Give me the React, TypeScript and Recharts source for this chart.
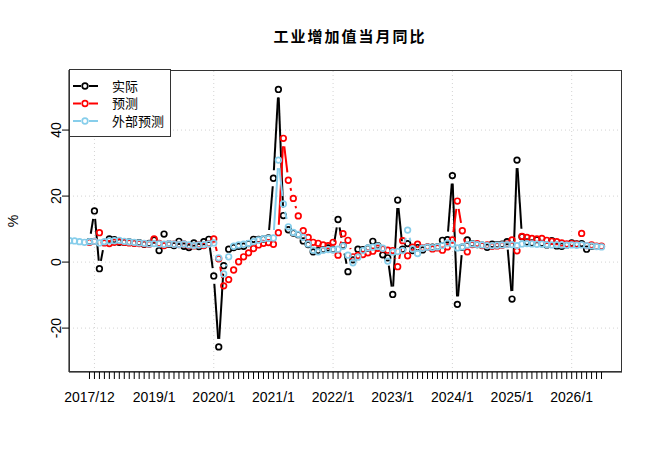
import React from "react";
import { ComposedChart, Line, XAxis, YAxis, ReferenceLine } from "recharts";

// months run from 2017/8 to 2026/7
const startYear = 2017;
const startMonth = 8;
const monthCount = 108;

// 实际
const actual: (number | null)[] = [
  null, null, null, null, 6.2,
  15.5, -2.0, 6.0, 7.0, 6.8, 6.0, 6.0, 6.1, 5.8, 5.9, 5.4, 5.7,
  6.7, 3.5, 8.5, 5.4, 5.0, 6.3, 4.8, 4.4, 5.8, 4.7, 6.2, 6.9,
  -4.2, -25.7, -1.1, 3.9, 4.4, 4.8, 4.8, 5.6, 6.9, 6.9, 7.0, 7.3,
  25.4, 52.3, 14.1, 9.8, 8.8, 8.3, 6.4, 5.3, 3.1, 3.5, 3.8, 4.3,
  3.8, 12.9, 5.0, -2.9, 0.7, 3.9, 3.8, 4.2, 6.3, 5.0, 2.2, 1.3,
  -9.8, 18.8, 3.9, 5.6, 3.5, 4.4, 3.7, 4.5, 4.5, 4.6, 6.6, 6.8,
  26.2, -12.8, 4.5, 6.7, 5.6, 5.3, 5.1, 4.5, 5.4, 5.3, 5.4, 6.2,
  -11.2, 30.9, 7.7, 6.1, 5.8, 6.8, 5.7, 5.2, 6.5, 4.9, 4.8, 5.2,
  5.8, 5.5, 5.6, 3.9, 4.8,
];

// 预测
const forecast: (number | null)[] = [
  null, null, null, null, 6.0,
  6.3, 8.9, 5.8, 5.6, 6.0, 6.2, 6.0, 5.8, 5.7, 5.6, 5.5, 5.4,
  7.0, 5.7, 5.0, 5.6, 5.4, 5.3, 5.5, 5.0, 4.9, 5.3, 5.0, 5.6,
  7.0, 1.0, -7.2, -5.3, -2.4, 0.1, 1.6, 2.8, 4.1, 5.2, 5.7, 5.9,
  5.4, 8.9, 37.5, 24.8, 19.3, 14.0, 9.5, 7.5, 6.0, 5.7, 5.2, 5.0,
  6.0, 2.1, 8.6, 6.6, 1.6, 2.0, 2.3, 2.8, 3.3, 4.2, 4.0, 3.6,
  3.5, -1.4, 6.5, 1.9, 4.5, 5.4, 4.3, 4.6, 4.0, 4.3, 3.6, 4.6,
  6.7, 18.5, 9.5, 3.1, 5.3, 5.6, 5.0, 5.2, 4.8, 4.9, 5.1, 5.4,
  6.7, 3.4, 7.8, 7.5, 7.2, 7.0, 7.2, 6.6, 6.3, 6.2, 5.8, 5.5,
  5.6, 5.4, 8.7, 5.0, 5.2, 4.8, 4.8,
];

// 外部预测
const external: (number | null)[] = [
  6.5, 6.4, 6.2, 6.0, 6.2,
  6.3, 5.8, 6.2, 6.4, 6.5, 6.6, 6.3, 6.1, 6.0, 5.8, 5.7, 5.5,
  5.6, 5.5, 5.4, 5.6, 5.4, 5.3, 5.5, 5.2, 5.0, 5.2, 5.3, 5.5,
  5.8, 1.3, -3.6, 1.6, 4.8, 5.2, 5.4, 5.7, 6.2, 6.7, 7.1, 7.2,
  7.3, 30.9, 17.6, 10.7, 9.0, 8.4, 7.5, 5.5, 3.6, 3.1, 3.6, 3.8,
  3.7, 3.9, 4.8, 2.1, -0.2, 1.5, 3.5, 4.3, 4.5, 4.8, 4.2, 0.3,
  3.0, 3.2, 3.5, 9.7, 4.0, 2.6, 4.2, 4.5, 4.4, 4.6, 5.0, 5.8,
  5.5, 4.3, 4.6, 5.2, 5.5, 5.3, 5.2, 5.0, 5.0, 5.1, 5.2, 5.3,
  5.3, 5.0, 5.5, 5.6, 5.5, 5.4, 5.4, 5.3, 5.2, 5.3, 5.2, 5.1,
  5.2, 5.1, 5.2, 5.0, 4.9, 4.7, 4.6,
];

const axisFirst = "2017/12";
const axisLast = "2026/7";
const tickLabels = ["2017/12", "2019/1", "2020/1", "2021/1", "2022/1", "2023/1", "2024/1", "2025/1", "2026/1"];
const gridMonths = ["2018/1", "2020/1", "2022/1", "2024/1", "2026/1"];
const yTicks = [-20, 0, 20, 40];

const months = Array.from({ length: monthCount }, (_, i) => {
  const k = startMonth - 1 + i;
  return `${startYear + Math.floor(k / 12)}/${(k % 12) + 1}`;
});
const t0 = months.indexOf(axisFirst);
const tOf = (m: string) => months.indexOf(m) - t0;

const data = months.map((label, i) => ({
  t: i - t0,
  label,
  actual: actual[i] ?? null,
  forecast: forecast[i] ?? null,
  external: external[i] ?? null,
}));

const tEnd = tOf(axisLast);
const monthTicks = data.filter((d) => d.t >= 0 && d.t <= tEnd).map((d) => d.t);
const labelAt = new Map(tickLabels.map((l) => [tOf(l), l]));
const pad = 0.04 * tEnd;

const FONT = "'Liberation Sans', Arial, sans-serif";
const CJK = "'Noto Sans CJK SC', sans-serif";

// R type="b": open circles, segments stop short of each point
function typeB(color: string) {
  return (props: any) => {
    const { cx, cy, index, points, value } = props;
    const key = `p-${color}-${index}`;
    if (cx == null || cy == null || value == null) return <g key={key} />;
    const next = points ? points[index + 1] : null;
    let seg = null;
    if (next && next.value != null && next.y != null) {
      const dx = next.x - cx;
      const dy = next.y - cy;
      const len = Math.hypot(dx, dy);
      const gap = 8;
      if (len > 2 * gap) {
        const ux = dx / len;
        const uy = dy / len;
        seg = (
          <line
            x1={cx + ux * gap}
            y1={cy + uy * gap}
            x2={next.x - ux * gap}
            y2={next.y - uy * gap}
            stroke={color}
            strokeWidth={2}
          />
        );
      }
    }
    return (
      <g key={key}>
        {seg}
        <circle cx={cx} cy={cy} r={2.8} fill="none" stroke={color} strokeWidth={1.7} />
      </g>
    );
  };
}

const XTick = (props: any) => {
  const { x, y, payload } = props;
  const text = labelAt.get(payload.value);
  if (!text) return <g />;
  return (
    <text x={x} y={y} dy="0.71em" textAnchor="middle" fontSize={14} fontFamily={FONT} fill="#000">
      {text}
    </text>
  );
};

const YTick = (props: any) => {
  const { x, y, payload } = props;
  const px = x - 4;
  return (
    <text
      x={px}
      y={y}
      transform={`rotate(-90 ${px} ${y})`}
      textAnchor="middle"
      dominantBaseline="central"
      fontSize={14}
      fontFamily={FONT}
      fill="#000"
    >
      {payload.value}
    </text>
  );
};

const series = [
  { key: "actual", name: "实际", color: "#000000" },
  { key: "forecast", name: "预测", color: "#FF0000" },
  { key: "external", name: "外部预测", color: "#87CEEB" },
];

function LegendBox() {
  return (
    <svg width={102} height={68} style={{ position: "absolute", left: 69, top: 69 }}>
      <rect x={0.5} y={0.5} width={101} height={67} fill="#fff" stroke="#333" />
      {series.map((s, i) => {
        const cy = 17 + i * 17.5;
        return (
          <g key={s.key}>
            <line x1={4} y1={cy} x2={12} y2={cy} stroke={s.color} strokeWidth={2} />
            <line x1={20} y1={cy} x2={29} y2={cy} stroke={s.color} strokeWidth={2} />
            <circle cx={16} cy={cy} r={2.8} fill="none" stroke={s.color} strokeWidth={1.7} />
            <text x={43} y={cy + 4.5} fontSize={13} fontFamily={CJK} fill="#000">
              {s.name}
            </text>
          </g>
        );
      })}
    </svg>
  );
}

export default function App() {
  return (
    <div style={{ position: "absolute", left: 0, top: 0, width: 659, height: 460, background: "#fff", fontFamily: FONT }}>
      <div
        style={{
          position: "absolute",
          left: 350,
          top: 26,
          transform: "translateX(-50%)",
          whiteSpace: "nowrap",
          fontFamily: CJK,
          fontWeight: 700,
          fontSize: 15,
          letterSpacing: 2,
          color: "#000",
          lineHeight: "20px",
        }}
      >
        工业增加值当月同比
      </div>
      <div
        style={{
          position: "absolute",
          left: 4,
          top: 211,
          width: 18,
          height: 20,
          transform: "rotate(-90deg)",
          textAlign: "center",
          fontSize: 14,
          lineHeight: "20px",
          fontFamily: FONT,
        }}
      >
        %
      </div>
      <ComposedChart width={659} height={460} data={data} margin={{ top: 70, right: 37, bottom: 58, left: 0 }}>
        {gridMonths.map((m) => (
          <ReferenceLine key={m} x={tOf(m)} stroke="#d3d3d3" strokeDasharray="1 3" />
        ))}
        {yTicks.map((v) => (
          <ReferenceLine key={v} y={v} stroke="#d3d3d3" strokeDasharray="1 3" />
        ))}
        <XAxis
          dataKey="t"
          type="number"
          domain={[-pad, tEnd + pad]}
          allowDataOverflow
          ticks={monthTicks}
          interval={0}
          tick={<XTick />}
          tickSize={7}
          tickMargin={13}
          height={30}
          axisLine={{ stroke: "#000" }}
          tickLine={{ stroke: "#000" }}
        />
        <YAxis
          type="number"
          domain={[-33.3, 58.2]}
          allowDataOverflow
          ticks={yTicks}
          interval={0}
          tick={<YTick />}
          tickSize={7}
          width={69}
          axisLine={{ stroke: "#000" }}
          tickLine={{ stroke: "#000" }}
        />
        {series.map((s) => (
          <Line
            key={s.key}
            type="linear"
            dataKey={s.key}
            name={s.name}
            stroke="none"
            dot={typeB(s.color)}
            activeDot={false}
            isAnimationActive={false}
          />
        ))}
      </ComposedChart>
      {/* plot box, as R's box() */}
      <div
        style={{
          position: "absolute",
          left: 69,
          top: 70,
          width: 553,
          height: 302,
          border: "1px solid #333",
          boxSizing: "border-box",
          pointerEvents: "none",
        }}
      />
      <LegendBox />
    </div>
  );
}
